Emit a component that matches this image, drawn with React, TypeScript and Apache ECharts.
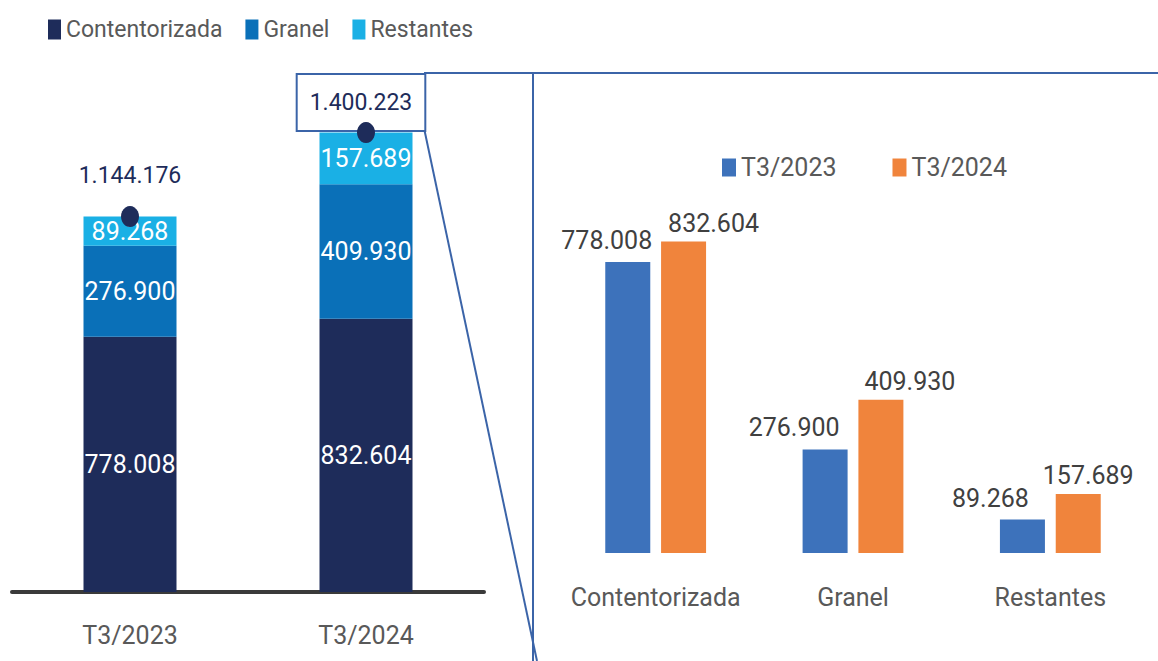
import React, { useEffect, useRef } from "react";
import * as echarts from "echarts";

const categoriesLeft = ["T3/2023", "T3/2024"];
const contentorizada = [778008, 832604];
const granel = [276900, 409930];
const restantes = [89268, 157689];
const totals = [1144176, 1400223];

const categoriesRight = ["Contentorizada", "Granel", "Restantes"];
const serieT32023 = [778008, 276900, 89268];
const serieT32024 = [832604, 409930, 157689];

const FONT = "Roboto, 'DejaVu Sans Condensed', sans-serif";
const NAVY = "#1e2c5a";
const GRANEL = "#0a70b8";
const REST = "#1ab0e5";
const BLUE = "#3d72bb";
const ORANGE = "#f0843c";
const FRAME = "#3b64a8";

const fmt = (v: number) => String(v).replace(/\B(?=(\d{3})+(?!\d))/g, ".");

const blueOffsets = [[-21, 0], [-31, 0], [-32, 0]];
const orangeOffsets = [[30, 0], [29, 0], [10, 0]];

export default function App() {
  const ref = useRef<HTMLDivElement>(null);
  useEffect(() => {
    if (!ref.current) return;
    const chart = echarts.init(ref.current, undefined, { renderer: "svg" });
    const insideLabel = {
      show: true,
      position: "inside",
      color: "#ffffff",
      fontFamily: FONT,
      fontSize: 25,
      formatter: (p: any) => fmt(p.value),
    };
    chart.setOption({
      animation: false,
      textStyle: { fontFamily: FONT },
      legend: [
        {
          data: ["Contentorizada", "Granel", "Restantes"],
          left: 43,
          top: 13,
          icon: "rect",
          itemWidth: 13,
          itemHeight: 20,
          itemGap: 23,
          textStyle: { fontFamily: FONT, fontSize: 23, color: "#595959" },
        },
        {
          data: ["T3/2023", "T3/2024"],
          left: 717,
          top: 150,
          icon: "rect",
          itemWidth: 14,
          itemHeight: 18,
          itemGap: 56,
          textStyle: { fontFamily: FONT, fontSize: 25, color: "#595959" },
        },
      ],
      grid: [
        { left: 12, width: 472, top: 67, height: 525 },
        { left: 557, width: 592, top: 179, height: 374 },
      ],
      xAxis: [
        {
          type: "category",
          gridIndex: 0,
          data: categoriesLeft,
          axisLine: { lineStyle: { color: "#3a3a3a", width: 4 } },
          axisTick: { show: false },
          axisLabel: { fontFamily: FONT, fontSize: 25, color: "#595959", margin: 31, interval: 0 },
        },
        {
          type: "category",
          gridIndex: 1,
          data: categoriesRight,
          axisLine: { show: false },
          axisTick: { show: false },
          axisLabel: { fontFamily: FONT, fontSize: 25, color: "#595959", margin: 32, interval: 0 },
        },
      ],
      yAxis: [
        { type: "value", gridIndex: 0, min: 0, max: 1600000, show: false, splitLine: { show: false } },
        { type: "value", gridIndex: 1, min: 0, max: 1000000, show: false, splitLine: { show: false } },
      ],
      series: [
        {
          name: "Contentorizada",
          type: "bar",
          stack: "total",
          xAxisIndex: 0,
          yAxisIndex: 0,
          barWidth: 93,
          data: contentorizada,
          itemStyle: { color: NAVY },
          label: insideLabel,
        },
        {
          name: "Granel",
          type: "bar",
          stack: "total",
          xAxisIndex: 0,
          yAxisIndex: 0,
          barWidth: 93,
          data: granel,
          itemStyle: { color: GRANEL },
          label: insideLabel,
        },
        {
          name: "Restantes",
          type: "bar",
          stack: "total",
          xAxisIndex: 0,
          yAxisIndex: 0,
          barWidth: 93,
          data: restantes,
          itemStyle: { color: REST },
          label: insideLabel,
        },
        {
          name: "TotalLabel",
          type: "scatter",
          xAxisIndex: 0,
          yAxisIndex: 0,
          symbol: "circle",
          symbolSize: [18, 21],
          itemStyle: { color: "rgba(0,0,0,0)", opacity: 1 },
          z: 5,
          silent: true,
          data: totals.map((v, i) =>
            i === 1
              ? {
                  value: v,
                  label: {
                    distance: -8,
                    offset: [-5, 0],
                    padding: [16, 12, 16, 12],
                    borderColor: FRAME,
                    borderWidth: 2,
                    backgroundColor: "#ffffff",
                  },
                }
              : { value: v }
          ),
          label: {
            show: true,
            position: "top",
            distance: 19,
            color: NAVY,
            fontFamily: FONT,
            fontSize: 23,
            formatter: (p: any) => fmt(p.value),
          },
        },
        {
          name: "Total",
          type: "scatter",
          xAxisIndex: 0,
          yAxisIndex: 0,
          symbol: "circle",
          symbolSize: [18, 21],
          itemStyle: { color: NAVY, opacity: 1 },
          z: 20,
          data: totals,
        },
        {
          name: "T3/2023",
          type: "bar",
          xAxisIndex: 1,
          yAxisIndex: 1,
          barWidth: 45,
          barGap: "24%",
          itemStyle: { color: BLUE },
          data: serieT32023.map((v, i) => ({ value: v, label: { offset: blueOffsets[i] } })),
          label: {
            show: true,
            position: "top",
            distance: 9,
            color: "#404040",
            fontFamily: FONT,
            fontSize: 25,
            formatter: (p: any) => fmt(p.value),
          },
        },
        {
          name: "T3/2024",
          type: "bar",
          xAxisIndex: 1,
          yAxisIndex: 1,
          barWidth: 45,
          itemStyle: { color: ORANGE },
          data: serieT32024.map((v, i) => ({ value: v, label: { offset: orangeOffsets[i] } })),
          label: {
            show: true,
            position: "top",
            distance: 6,
            color: "#404040",
            fontFamily: FONT,
            fontSize: 25,
            formatter: (p: any) => fmt(p.value),
          },
        },
      ],
      graphic: [
        { type: "line", shape: { x1: 424, y1: 73, x2: 1158, y2: 73 }, style: { stroke: FRAME, lineWidth: 2 }, z: 1 },
        { type: "line", shape: { x1: 533, y1: 73, x2: 533, y2: 661 }, style: { stroke: FRAME, lineWidth: 2 }, z: 1 },
        { type: "line", shape: { x1: 424, y1: 128, x2: 537, y2: 661 }, style: { stroke: FRAME, lineWidth: 2 }, z: 1 },
      ],
    });
    return () => chart.dispose();
  }, []);
  return (
    <div
      ref={ref}
      style={{ position: "fixed", left: 0, top: 0, width: 1158, height: 661, background: "#ffffff" }}
    />
  );
}
